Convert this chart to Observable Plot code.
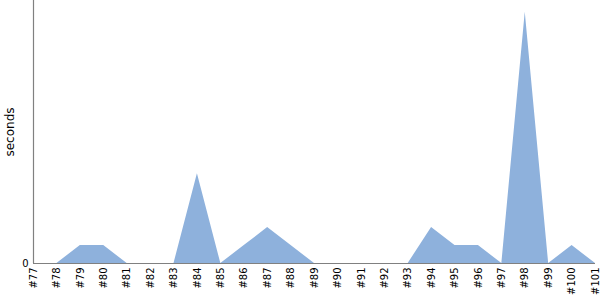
<!DOCTYPE html>
<html><head><meta charset="utf-8">
<script src="https://cdn.jsdelivr.net/npm/d3@7"></script>
<script src="https://cdn.jsdelivr.net/npm/@observablehq/plot@0.6"></script>
<style>html,body{margin:0;padding:0;background:#fff;overflow:hidden;font-family:"DejaVu Sans",sans-serif}#chart svg{display:block}</style>
</head><body><div id="chart"></div>
<script>
const builds = ["#77","#78","#79","#80","#81","#82","#83","#84","#85","#86","#87","#88","#89","#90","#91","#92","#93","#94","#95","#96","#97","#98","#99","#100","#101"];
const seconds = [0,0,1,1,0,0,0,5,0,1,2,1,0,0,0,0,0,2,1,1,0,14,0,1,0];
const yMax = 14.66;
const data = builds.map((b,i)=>({i, build:b, value:seconds[i]}));

const chart = Plot.plot({
  width: 600, height: 300,
  marginLeft: 33, marginRight: 5, marginTop: 0, marginBottom: 37,
  style: {fontFamily: "'DejaVu Sans', sans-serif", fontSize: "10px", color: "#000", background: "#fff"},
  x: {type: "linear", domain: [0, builds.length - 1], range: [33, 595]},
  y: {domain: [0, yMax], range: [263, 0]},
  marks: [
    Plot.areaY(data, {x: "i", y: "value", fill: "#8eb1dc"}),
    Plot.ruleY([0], {stroke: "#808080", strokeWidth: 1.2}),
    Plot.ruleX([0], {stroke: "#808080", strokeWidth: 1.2}),
    Plot.axisX({ticks: d3.range(builds.length), tickFormat: i => builds[i], tickSize: 0, tickPadding: 4, tickRotate: -90, label: null, fontSize: 10}),
    Plot.axisY({ticks: [0], tickSize: 0, tickPadding: 5, label: null, fontSize: 10}),
    Plot.text(["seconds"], {frameAnchor: "left", textAnchor: "middle", rotate: -90, dx: -23, fontSize: 12, fill: "#000"})
  ]
});
document.getElementById("chart").appendChild(chart);
</script></body></html>
